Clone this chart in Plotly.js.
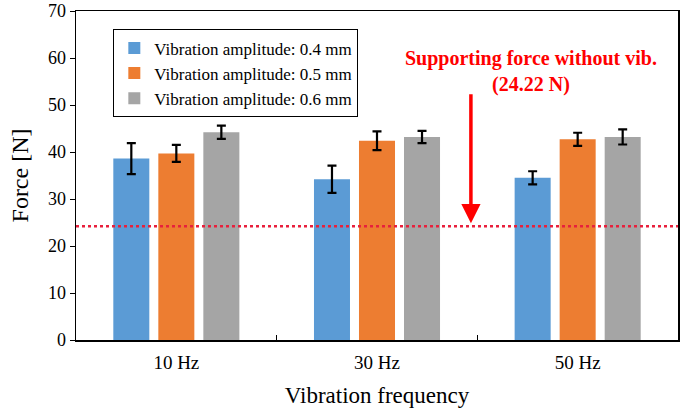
<!DOCTYPE html>
<html>
<head>
<meta charset="utf-8">
<script src="https://cdn.plot.ly/plotly-3.0.1.min.js"></script>
<style>html,body{margin:0;padding:0;background:#fff;}#chart{width:685px;height:409px;}</style>
</head>
<body>
<div id="chart"></div>
<script>
const categories = ["10 Hz", "30 Hz", "50 Hz"];
const seriesNames = ["Vibration amplitude: 0.4 mm", "Vibration amplitude: 0.5 mm", "Vibration amplitude: 0.6 mm"];
const amp04 = [38.6, 34.2, 34.5];
const amp05 = [39.7, 42.4, 42.7];
const amp06 = [44.2, 43.2, 43.2];
const err04 = [3.3, 2.9, 1.4];
const err05 = [1.8, 2.0, 1.4];
const err06 = [1.4, 1.3, 1.6];
const supportForce = 24.22;
const yTicks = [0, 10, 20, 30, 40, 50, 60, 70];

const colors = ["#5b9bd5", "#ed7d31", "#a5a5a5"];
const values = [amp04, amp05, amp06];
const errors = [err04, err05, err06];
const serif = "Liberation Serif";

const traces = values.map((v, i) => ({
  type: "bar",
  name: seriesNames[i],
  x: categories,
  y: v,
  marker: {color: colors[i]},
  error_y: {type: "data", array: errors[i], visible: true, color: "#000", thickness: 2.2, width: 4.5}
}));

const layout = {
  width: 685, height: 409,
  margin: {l: 76, r: 7, t: 11, b: 69},
  paper_bgcolor: "#fff", plot_bgcolor: "#fff",
  barmode: "group", bargap: 0.327, bargroupgap: 0.2,
  font: {family: serif, color: "#000"},
  showlegend: true,
  legend: {
    x: 0.0615, y: 0.945, xanchor: "left", yanchor: "top",
    bordercolor: "#000", borderwidth: 1.3, bgcolor: "#fff",
    font: {family: serif, size: 17, color: "#000"},
    itemwidth: 30
  },
  xaxis: {
    type: "category",
    showline: true, linecolor: "#000", linewidth: 1.5, mirror: true,
    ticks: "inside", tickson: "boundaries", ticklen: 5, tickcolor: "#000",
    ticklabelstandoff: 5,
    tickfont: {family: serif, size: 19, color: "#000"},
    title: {text: "Vibration frequency", font: {family: serif, size: 23, color: "#000"}, standoff: 14},
    showgrid: false, zeroline: false, fixedrange: true
  },
  yaxis: {
    range: [0, 70], tickvals: yTicks, ticktext: yTicks.map(String),
    showline: true, linecolor: "#000", linewidth: 1.5, mirror: true,
    ticks: "outside", ticklen: 5, tickcolor: "#000",
    tickfont: {family: serif, size: 18, color: "#000"},
    title: {text: "Force [N]", font: {family: serif, size: 24, color: "#000"}, standoff: 12},
    showgrid: false, zeroline: false, fixedrange: true
  },
  shapes: [{
    type: "line", xref: "paper", x0: 0, x1: 1, yref: "y", y0: supportForce, y1: supportForce,
    line: {color: "#e8203c", width: 2.5, dash: "dot"}
  }],
  annotations: [
    {
      xref: "x", yref: "y", x: 1.468, y: supportForce + 0.6,
      axref: "x", ayref: "y", ax: 1.468, ay: 52.6,
      showarrow: true, arrowhead: 2, arrowsize: 1.1, arrowwidth: 3.5, arrowcolor: "#ff0000", text: ""
    },
    {
      xref: "paper", yref: "y", x: 0.756, y: 57.2, xanchor: "center", yanchor: "middle",
      showarrow: false, align: "center",
      text: "<b>Supporting force without vib.<br>(" + supportForce.toFixed(2) + " N)</b>",
      font: {family: serif, size: 20, color: "#ff0000"}
    }
  ]
};

function showEdgeTickLabels() {
  document.querySelectorAll('#chart .ytick text').forEach(t => { t.style.display = ''; });
}

Plotly.newPlot("chart", traces, layout, {displayModeBar: false, staticPlot: true}).then(gd => {
  showEdgeTickLabels();
  gd.on('plotly_afterplot', showEdgeTickLabels);
});
</script>
</body>
</html>
